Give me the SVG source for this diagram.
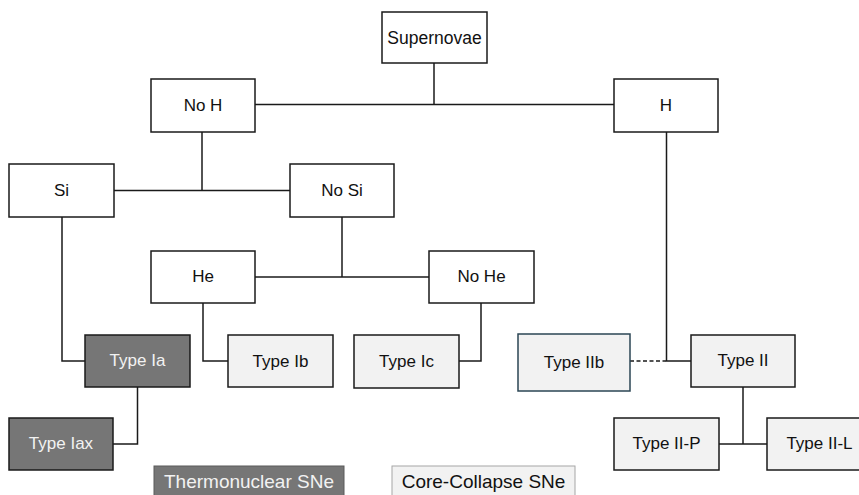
<svg xmlns="http://www.w3.org/2000/svg" width="859" height="495" viewBox="0 0 859 495">
<style>
.n rect{stroke:#1a1a1a;stroke-width:1.5}
.w rect{fill:#ffffff}
.l rect{fill:#f2f2f2}
.d rect{fill:#767676}
text{font-family:"Liberation Sans",Arial,sans-serif;font-size:17px;text-anchor:middle;dominant-baseline:central}
.w text,.l text{fill:#111}
.d text{fill:#f2f2f2}
.c path{fill:none;stroke:#1a1a1a;stroke-width:1.5}
.c .dash{stroke-dasharray:4 2.5}
.lg text{font-size:19px}
</style>
<rect width="859" height="495" fill="#ffffff"/>
<g class="c" id="connectors">
<path d="M434 63V104.5"/>
<path d="M255 104.5H614"/>
<path d="M202 132V190.5"/>
<path d="M114 190.5H290"/>
<path d="M342 217V277"/>
<path d="M255 277H429"/>
<path d="M62 217V361H85"/>
<path d="M203 303V361H228"/>
<path d="M481 303V361H459"/>
<path d="M666.5 132V361H691"/>
<path class="dash" d="M630 361H666"/>
<path d="M137.5 387V444H113"/>
<path d="M743 387V444"/>
<path d="M719 444H767"/>
</g>
<g id="supernovae" class="n w"><rect x="382" y="12" width="105" height="51"/><text x="434.5" y="38" style="font-size:17.5px">Supernovae</text></g>
<g id="noH" class="n w"><rect x="151" y="79" width="104" height="53"/><text x="203" y="105">No H</text></g>
<g id="H" class="n w"><rect x="614" y="79" width="104" height="53"/><text x="666" y="105">H</text></g>
<g id="si" class="n w"><rect x="9" y="164" width="105" height="53"/><text x="61.5" y="190.5">Si</text></g>
<g id="noSi" class="n w"><rect x="290" y="164" width="104" height="53"/><text x="342" y="190.5">No Si</text></g>
<g id="he" class="n w"><rect x="151" y="251" width="104" height="52"/><text x="203" y="276.5">He</text></g>
<g id="noHe" class="n w"><rect x="429" y="251" width="105" height="52"/><text x="481.5" y="276.5">No He</text></g>
<g id="typeIa" class="n d"><rect x="85" y="335" width="105" height="52"/><text x="137.5" y="360.5">Type Ia</text></g>
<g id="typeIb" class="n l"><rect x="228" y="335" width="105" height="52"/><text x="280.5" y="361">Type Ib</text></g>
<g id="typeIc" class="n l"><rect x="354" y="335" width="105" height="53"/><text x="406.5" y="361">Type Ic</text></g>
<g id="typeIIb" class="n l"><rect x="518" y="334" width="112" height="57" style="stroke:#2b4654"/><text x="574" y="362.5">Type IIb</text></g>
<g id="typeII" class="n l"><rect x="691" y="335" width="104" height="52"/><text x="743" y="360">Type II</text></g>
<g id="typeIax" class="n d"><rect x="9" y="418" width="104" height="52"/><text x="61" y="443.5">Type Iax</text></g>
<g id="typeIIP" class="n l"><rect x="614" y="418" width="105" height="52"/><text x="666.5" y="443.5">Type II-P</text></g>
<g id="typeIIL" class="n l"><rect x="767" y="418" width="105" height="52"/><text x="819.5" y="443.5">Type II-L</text></g>
<g id="legendThermo" class="lg d"><rect x="154" y="466" width="190" height="35" style="stroke:#5a5a5a;stroke-width:1"/><text x="249" y="481">Thermonuclear SNe</text></g>
<g id="legendCore" class="lg l"><rect x="392" y="466" width="183" height="35" style="stroke:#a6a6a6;stroke-width:1"/><text x="483.5" y="481">Core-Collapse SNe</text></g>
</svg>
